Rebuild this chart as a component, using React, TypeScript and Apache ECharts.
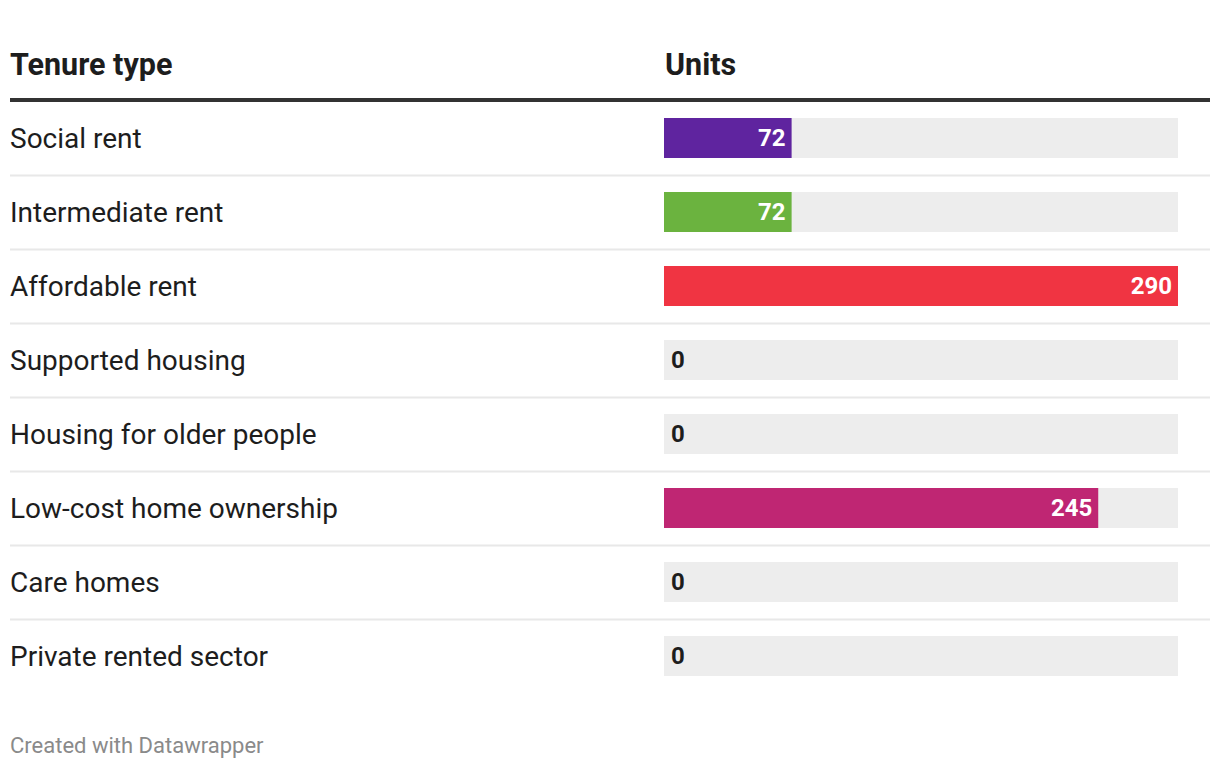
import React, { useEffect, useRef } from "react";
import * as echarts from "echarts";

const categories = [
  "Social rent",
  "Intermediate rent",
  "Affordable rent",
  "Supported housing",
  "Housing for older people",
  "Low-cost home ownership",
  "Care homes",
  "Private rented sector",
];
const units = [72, 72, 290, 0, 0, 245, 0, 0];
const barColors = ["#5f249f", "#6bb33f", "#f03442", "#999999", "#999999", "#bf2673", "#999999", "#999999"];
const columnHeaders = ["Tenure type", "Units"];
const footerText = "Created with Datawrapper";

const W = 1220;
const H = 768;
const GRID_LEFT = 664;
const GRID_RIGHT_EDGE = 1178;
const GRID_TOP = 101;
const ROW_H = 74;
const FONT = "Roboto, 'Noto Sans', sans-serif";

export default function App() {
  const ref = useRef<HTMLDivElement>(null);

  useEffect(() => {
    document.body.style.margin = "0";
    if (!ref.current) return;
    const chart = echarts.init(ref.current, undefined, { renderer: "svg" });

    const graphics: any[] = [
      {
        type: "text",
        x: 10,
        y: 64,
        style: {
          text: columnHeaders[0],
          fontSize: 30.5,
          fontWeight: "bold",
          fontFamily: FONT,
          fill: "#1d1d1d",
          verticalAlign: "middle",
        },
      },
      {
        type: "text",
        x: 665,
        y: 64,
        style: {
          text: columnHeaders[1],
          fontSize: 30.5,
          fontWeight: "bold",
          fontFamily: FONT,
          fill: "#1d1d1d",
          verticalAlign: "middle",
        },
      },
      {
        type: "line",
        shape: { x1: 10, y1: 100, x2: 1210, y2: 100 },
        style: { stroke: "#333333", lineWidth: 4 },
      },
      {
        type: "text",
        x: 10,
        y: 745,
        style: {
          text: footerText,
          fontSize: 22,
          fontFamily: FONT,
          fill: "#8a8a8a",
          verticalAlign: "middle",
        },
      },
    ];
    for (let i = 1; i < categories.length; i++) {
      const y = GRID_TOP + i * ROW_H + 0.5;
      graphics.push({
        type: "line",
        shape: { x1: 10, y1: y, x2: 1210, y2: y },
        style: { stroke: "#e8e8e8", lineWidth: 2 },
      });
    }

    const option: any = {
      animation: false,
      backgroundColor: "#ffffff",
      grid: {
        left: GRID_LEFT,
        right: W - GRID_RIGHT_EDGE,
        top: GRID_TOP,
        height: categories.length * ROW_H,
        containLabel: false,
      },
      xAxis: {
        type: "value",
        min: 0,
        max: 290,
        show: false,
      },
      yAxis: {
        type: "category",
        data: categories,
        inverse: true,
        axisLine: { show: false },
        axisTick: { show: false },
        splitLine: { show: false },
        axisLabel: {
          align: "left",
          margin: GRID_LEFT - 10,
          fontSize: 28,
          fontFamily: FONT,
          color: "#1d1d1d",
          padding: [2, 0, 0, 0],
        },
      },
      series: [
        {
          type: "bar",
          barWidth: 40,
          showBackground: true,
          backgroundStyle: { color: "#ededed" },
          data: units.map((v, i) => ({
            value: v,
            itemStyle: { color: barColors[i] },
            label:
              v > 0
                ? {
                    show: true,
                    position: "insideRight",
                    distance: 6,
                    color: "#ffffff",
                    fontSize: 24,
                    fontWeight: "bold",
                    fontFamily: FONT,
                  }
                : {
                    show: true,
                    position: "insideLeft",
                    distance: 7,
                    color: "#1d1d1d",
                    fontSize: 24,
                    fontWeight: "bold",
                    fontFamily: FONT,
                  },
          })),
        },
      ],
      graphic: graphics,
    };
    chart.setOption(option);
    return () => chart.dispose();
  }, []);

  return <div ref={ref} style={{ width: W, height: H }} />;
}
